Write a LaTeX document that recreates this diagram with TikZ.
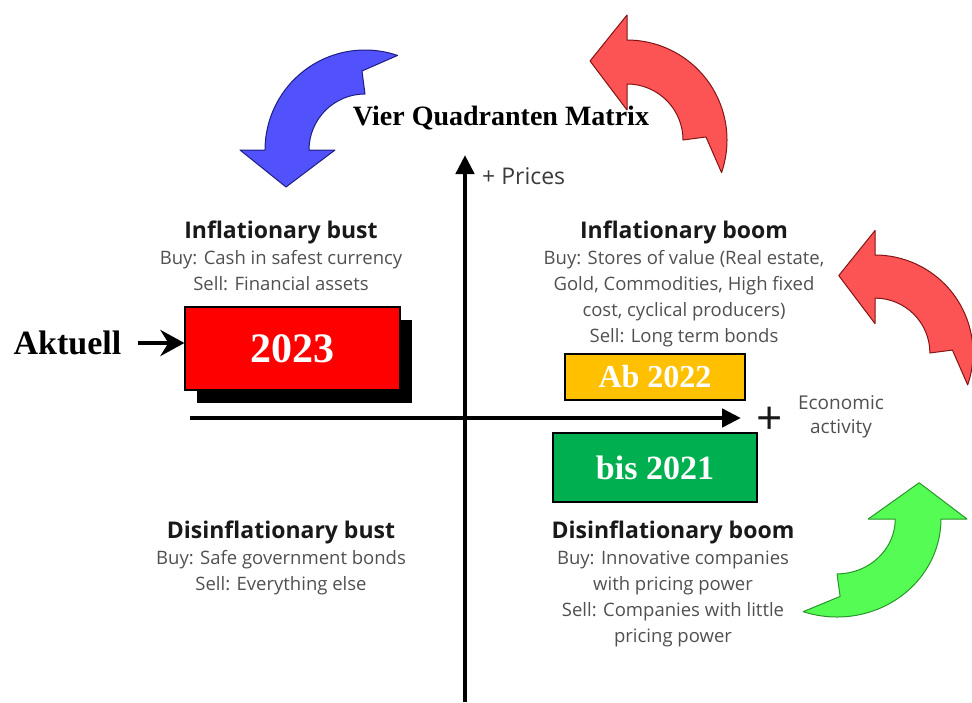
\documentclass[tikz,border=0pt]{standalone}
\usepackage{fontspec}
\setmainfont{Liberation Serif}
\setsansfont{Open Sans}
\usetikzlibrary{arrows.meta,shadows}

\definecolor{bendblue}{RGB}{82,82,252}
\definecolor{bendblueline}{RGB}{30,30,130}
\definecolor{bendred}{RGB}{252,84,84}
\definecolor{bendredline}{RGB}{130,20,20}
\definecolor{bendgreen}{RGB}{84,252,84}
\definecolor{bendgreenline}{RGB}{40,150,40}
\definecolor{boxorange}{RGB}{255,192,0}
\definecolor{boxgreen}{RGB}{0,176,80}
\definecolor{quadgray}{RGB}{80,80,80}
\definecolor{quaddark}{RGB}{25,25,25}

\newcommand{\quadhead}[1]{{\color{quaddark}\bfseries\fontsize{23}{26}\selectfont #1}}

\begin{document}
\begin{tikzpicture}[x=1pt, y=-1pt,
  axis/.style={line width=4.5pt, -{Triangle[length=19pt,width=18pt]}},
  yearbox/.style={draw=black, line width=1.2pt, text=white, inner sep=0pt,
    font=\bfseries\fontsize{#1}{#1}\selectfont},
  quadtext/.style={align=center, anchor=north, inner sep=0pt, text=quadgray,
    font=\sffamily\fontsize{18.5}{26}\selectfont},
  bendarrow/.style={line width=1pt, line join=round}
]
\useasboundingbox (0,0) rectangle (972,702);

% curved arrows round the matrix
\foreach \cx/\cy/\rot/\a/\b/\fc/\dc in {365/150/0/100/100/bendblue/bendblueline,
    627/140/-90/100/100/bendred/bendredline, 875/353/-90/98/98/bendred/bendredline,
    837/519/180/104/98/bendgreen/bendgreenline}{
  \filldraw[bendarrow, fill=\fc, draw=\dc, shift={(\cx,\cy)}, rotate=\rot, xscale=\a, yscale=-\b]
    (71:1) arc[start angle=71, end angle=180, radius=1] -- (-1.25,0) -- (-0.79,-0.37)
    -- (-0.30,0) -- (-0.56,0) arc[start angle=180, end angle=90, radius=0.56]
    -- (-0.03,0.79) -- cycle;
}

\node[font=\bfseries\fontsize{28}{28}\selectfont] (title) at (501,118) {Vier Quadranten Matrix};

% axes
\coordinate (pricebot) at (465,702);
\coordinate (pricetop) at (465,155);
\coordinate (activityleft) at (190,418);
\coordinate (activityright) at (741,418);
\draw[axis] (pricebot) -- (pricetop);
\draw[axis] (activityleft) -- (activityright);

\node[anchor=west, inner sep=0pt, text=quaddark!85, font=\sffamily\fontsize{23}{23}\selectfont] (prices) at (482,176) {+ Prices};
\node[text=quaddark, font=\sffamily\fontsize{46}{46}\selectfont] (plusx) at (770,421) {+};
\node[align=center, text=quadgray, font=\sffamily\fontsize{19}{24}\selectfont] (activity) at (841,417) {Economic\\activity};

% year boxes
\node[yearbox=42, fill=red, minimum width=215, minimum height=83,
  drop shadow={shadow xshift=12pt, shadow yshift=-13pt, fill=black, opacity=1}] (box2023) at (292.5,348.5) {2023};
\node[yearbox=32, fill=boxorange, minimum width=180, minimum height=46] (box2022) at (655,377) {Ab 2022};
\node[yearbox=34, fill=boxgreen, minimum width=204, minimum height=69] (box2021) at (655,467.5) {bis 2021};

\node[font=\bfseries\fontsize{34}{34}\selectfont, inner sep=0pt] (aktuell) at (67.5,343) {Aktuell};
\draw[line width=4pt, shorten <=16pt, -{Stealth[length=24pt,width=26pt,inset=8pt]}] (aktuell.east) -- (aktuell.east -| box2023.west);

% quadrants
\node[quadtext] (infbust) at (281,221) {\quadhead{Inflationary bust}\\
  Buy: Cash in safest currency\\Sell: Financial assets};
\node[quadtext] (infboom) at (684,221) {\quadhead{Inflationary boom}\\
  Buy: Stores of value (Real estate,\\Gold, Commodities, High fixed\\cost, cyclical producers)\\Sell: Long term bonds};
\node[quadtext] (disbust) at (281,521) {\quadhead{Disinflationary bust}\\
  Buy: Safe government bonds\\Sell: Everything else};
\node[quadtext] (disboom) at (673,521) {\quadhead{Disinflationary boom}\\
  Buy: Innovative companies\\with pricing power\\Sell: Companies with little\\pricing power};
\end{tikzpicture}
\end{document}
